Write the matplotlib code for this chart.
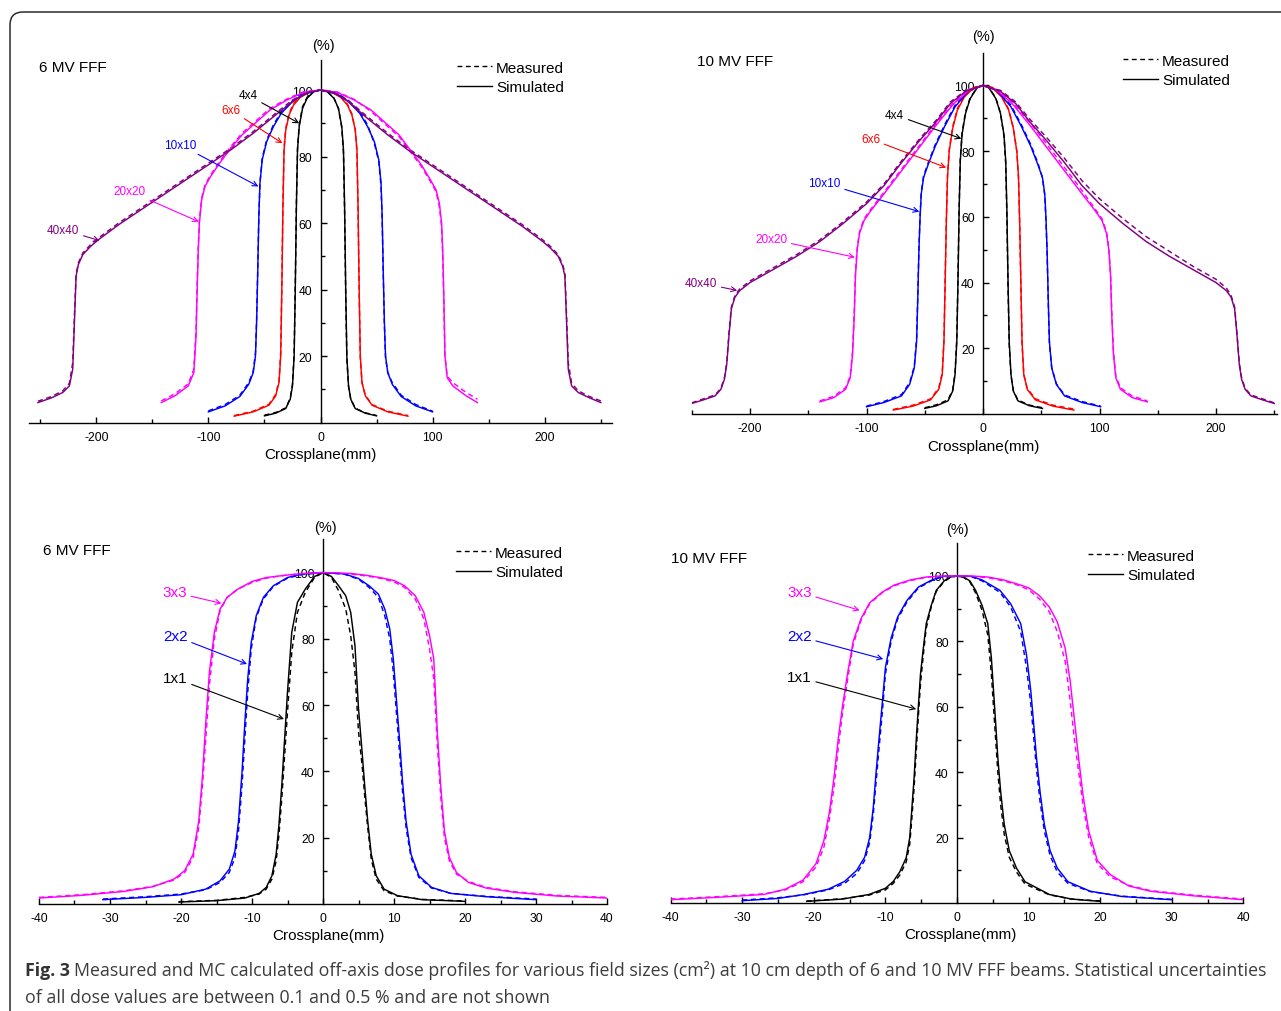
import matplotlib
matplotlib.use('Agg')
import matplotlib.pyplot as plt
from matplotlib.lines import Line2D
from matplotlib.patches import FancyBboxPatch
from matplotlib.ticker import MultipleLocator, FixedLocator

plt.rcParams['font.family'] = ['Liberation Sans', 'DejaVu Sans']
plt.rcParams['axes.unicode_minus'] = False

W, H = 1281, 1012

# ---------------- data: 6 MV FFF, large fields (crossplane mm, dose %) ----------------
a_x40 = [-252, -240, -230, -224, -221, -219.5, -218, -216, -212, -205, -198, -180, -160, -140, -120, -100, -80, -60, -40, -25,
         -12, 0, 12, 25, 40, 60, 80, 100, 120, 140, 160, 180, 198, 205, 212, 216, 218, 219.5, 221, 224, 230, 240, 250]
a_sim40 = [6.0, 7.4, 9.0, 11.0, 16, 30, 44, 47.5, 50.5, 53, 55, 59.5, 64, 68.5, 73, 77.5, 82, 87, 92.5, 96.5,
           99.2, 100, 99.2, 96.5, 92, 86.5, 81.5, 77, 72.5, 68, 63.5, 59, 54.5, 52.5, 50, 47, 44, 30, 16, 11, 9, 7.4, 6.0]
a_meas40 = [6.4, 7.8, 9.5, 11.8, 18, 32, 44.5, 48, 51, 53.5, 55.5, 60, 64.5, 69, 73.5, 78, 82.5, 87.5, 93, 97,
            99.4, 100, 99.4, 96.8, 92.5, 87, 82, 77.5, 73, 68.5, 64, 59.5, 55, 53, 50.5, 47.5, 45, 32, 18, 11.8, 9.5, 7.8, 6.5]

a_x20 = [-142, -130, -118, -113, -111, -110, -109, -108, -106, -103, -98, -90, -80, -70, -60, -45, -30, -15, 0, 15,
         30, 45, 60, 70, 80, 90, 98, 103, 106, 108, 109, 110, 111, 113, 118, 130, 140]
a_sim20 = [6.0, 8.0, 11.0, 15, 26, 40, 52, 60, 67, 71, 74, 78, 82.5, 86.5, 89.5, 94, 97, 99.3, 100, 99.3,
           97, 94, 89.5, 86.5, 82, 77.5, 73, 70, 66, 60, 52, 38, 20, 13.5, 11, 8, 6.0]
a_meas20 = [6.5, 8.6, 11.6, 16, 28, 42, 53, 61, 67.5, 71.5, 74.5, 78.5, 83, 87, 90, 94.5, 97.3, 99.5, 100, 99.4,
            97.2, 93.6, 89, 86, 81.5, 77, 72.5, 69.5, 65, 59, 50, 36, 20, 14, 12, 9, 7.0]

a_x10 = [-100, -85, -72, -64, -60, -58, -57, -56, -55, -54, -52, -48, -42, -35, -25, -15, 0, 15, 25, 35,
         42, 48, 52, 54, 55, 56, 57, 58, 60, 64, 72, 85, 100]
a_sim10 = [3.2, 5.0, 7.8, 11.5, 15, 20, 30, 45, 62, 72, 79, 84.5, 89, 93, 96.5, 98.8, 100, 98.8, 96.5, 93,
           89, 84.5, 79, 72, 62, 45, 30, 20, 15, 11.5, 7.8, 5.0, 3.2]
a_meas10 = [3.5, 5.4, 8.2, 12, 15.5, 21, 31, 46, 62, 72, 79.5, 85, 89.5, 93.5, 96.8, 99, 100, 99, 96.8, 93.5,
            89.5, 84, 78.5, 71, 61, 44, 29, 19.5, 15, 12, 8.2, 5.4, 3.4]

a_x6 = [-77, -60, -46, -40, -37, -35.5, -34.5, -33.5, -32.5, -31, -28, -24, -18, -10, 0, 10, 18, 24, 28, 31,
        32.5, 33.5, 34.5, 35.5, 37, 40, 46, 60, 78]
a_sim6 = [1.9, 3.2, 5.2, 8.0, 12, 20, 40, 65, 82, 88, 92.5, 95.5, 97.8, 99.3, 100, 99.3, 97.8, 95.5, 92.5, 88,
          82, 65, 40, 20, 12, 8.0, 5.2, 3.2, 1.9]
a_meas6 = [2.1, 3.4, 5.5, 8.4, 12.5, 21, 41, 66, 82.5, 88.5, 93, 96, 98, 99.5, 100, 99.5, 98, 95.8, 92.8, 88,
           81.5, 64, 39, 19.5, 12, 8.2, 5.4, 3.4, 2.1]

a_x4 = [-50, -40, -31, -27, -25, -23.5, -22.5, -21.5, -20.5, -19, -16, -12, -6, 0, 6, 12, 16, 19, 20.5, 21.5,
        22.5, 23.5, 25, 27, 31, 40, 50]
a_sim4 = [2.0, 2.8, 4.2, 7, 11, 20, 40, 65, 82, 89, 94.5, 97.5, 99.5, 100, 99.5, 97.5, 94.5, 89, 82, 65,
          40, 20, 11, 7, 4.2, 2.8, 2.0]
a_meas4 = [2.2, 3.0, 4.4, 7.3, 11.5, 21, 41, 66, 82.5, 89.5, 95, 97.8, 99.6, 100, 99.6, 97.6, 94.4, 88.6, 81, 63,
           38, 19, 10.8, 7, 4.3, 2.9, 2.1]

# ---------------- data: 10 MV FFF, large fields ----------------
b_x40 = [-250, -240, -230, -225, -222, -220, -218, -216, -213, -209, -200, -180, -160, -140, -120, -100, -85, -70, -55, -40,
         -28, -15, 0, 15, 28, 40, 55, 70, 85, 100, 120, 140, 160, 180, 200, 209, 213, 216, 218, 220,
         222, 225, 230, 240, 250]
b_sim40 = [3.2, 4.3, 5.5, 7.5, 10.5, 15, 24, 32, 35.5, 37.5, 40, 44, 48, 52.5, 58, 64, 69.5, 76.5, 83, 89,
           94.5, 98.2, 100, 98.2, 94.5, 89, 83, 76.5, 69.5, 64, 58, 52.5, 48, 44, 40, 37.5, 35.5, 32, 24, 15,
           10.5, 7.5, 5.5, 4.3, 3.2]
b_meas40 = [3.4, 4.6, 5.8, 7.8, 11, 15.5, 25, 32.5, 36, 38, 40.5, 44.5, 48.5, 53, 58.5, 64.5, 70, 77, 83.5, 89.5,
            95, 98.4, 100, 98.5, 95, 89.8, 84, 77.8, 71, 65.5, 59.5, 54, 49.5, 45, 41, 38.3, 36, 32.5, 24.5, 15.5,
            11, 7.8, 5.8, 4.6, 3.4]

b_x20 = [-140, -128, -118, -114, -112, -110.5, -109.5, -108, -106, -102, -96, -85, -70, -55, -40, -25, -12, 0, 12, 25,
         40, 55, 70, 85, 96, 102, 106, 108, 109.5, 110.5, 112, 114, 118, 128, 141]
b_sim20 = [3.7, 5.0, 7.5, 11, 18, 30, 42, 50, 55, 59, 62, 67, 74, 81, 88, 94.5, 98.5, 100, 98.5, 94.5,
           88, 81, 74, 67, 62, 59, 55, 50, 42, 30, 18, 11, 7.5, 5.0, 3.7]
b_meas20 = [4.0, 5.4, 8.0, 11.5, 19, 31, 43, 50.5, 55.5, 59.5, 62.5, 67.5, 74.5, 81.5, 88.5, 95, 98.7, 100, 98.6, 95,
            88.8, 82, 75, 68, 62.5, 59.5, 55.5, 50.5, 42.5, 31, 19, 11.5, 8, 5.5, 4.0]

b_x10 = [-100, -85, -70, -63, -59, -57, -56, -55, -54, -53, -51, -47, -41, -33, -24, -12, 0, 12, 24, 33,
         41, 47, 51, 53, 54, 55, 56, 57, 59, 63, 70, 85, 101]
b_sim10 = [2.2, 3.5, 5.5, 9, 14, 22, 35, 50, 60, 67, 72, 76, 81.5, 87.5, 93.5, 98.5, 100, 98.5, 93.5, 87.5,
           81.5, 76, 72, 67, 60, 50, 35, 22, 14, 9, 5.5, 3.5, 2.2]
b_meas10 = [2.4, 3.8, 5.9, 9.5, 14.5, 23, 36, 50.5, 60.5, 67.5, 72.5, 76.5, 82, 88, 94, 98.7, 100, 98.7, 94, 88,
            82, 76.5, 72, 66.5, 59, 49, 34, 21.5, 14, 9.2, 5.8, 3.8, 2.4]

b_x6 = [-77, -60, -45, -38, -35, -33.5, -32.5, -31.5, -30.5, -29, -26, -22, -16, -8, 0, 8, 16, 22, 26, 29,
        30.5, 31.5, 32.5, 33.5, 35, 38, 45, 60, 78]
b_sim6 = [1.2, 2.4, 4.3, 7.5, 12, 22, 40, 58, 72, 80, 87, 92.5, 96.5, 99.3, 100, 99.3, 96.5, 92.5, 87, 80,
          72, 58, 40, 22, 12, 7.5, 4.3, 2.4, 1.2]
b_meas6 = [1.4, 2.7, 4.6, 7.9, 12.5, 23, 41, 59, 72.5, 80.5, 87.5, 93, 96.8, 99.4, 100, 99.4, 96.8, 92.8, 87.2, 80,
           71.5, 57, 39, 21.5, 12, 7.8, 4.6, 2.7, 1.5]

b_x4 = [-50, -40, -30, -26, -24, -22.5, -21.5, -20.5, -19.5, -18, -15, -11, -5, 0, 5, 11, 15, 18, 19.5, 20.5,
        21.5, 22.5, 24, 26, 30, 40, 51]
b_sim4 = [1.7, 2.5, 4.0, 7, 12, 22, 40, 62, 77, 85, 91.5, 96, 99.3, 100, 99.3, 96, 91.5, 85, 77, 62,
          40, 22, 12, 7, 4.0, 2.5, 1.7]
b_meas4 = [1.9, 2.8, 4.3, 7.4, 12.5, 23, 41, 63, 77.5, 85.5, 92, 96.3, 99.4, 100, 99.4, 96.2, 91.5, 84.6, 76, 60,
           38, 21, 11.8, 7.2, 4.2, 2.7, 1.9]

# ---------------- data: 6 MV FFF, small fields ----------------
c_x3 = [-40, -34, -28, -24, -21, -19.5, -18.3, -17.5, -17, -16.5, -16, -15.3, -14.5, -13.5, -12, -10, -8, -6, -4, -2,
        0, 2, 4, 6, 8, 10, 11.5, 13, 14.2, 15, 15.6, 16.1, 16.6, 17.1, 17.8, 18.8, 20.5, 23, 27, 33, 40]
c_sim3 = [1.8, 2.6, 3.8, 5.2, 7.5, 10, 15, 25, 38, 55, 70, 82, 89, 92.5, 95, 97.3, 98.5, 99, 99.5, 99.8,
          100, 99.9, 99.7, 99.2, 98.5, 97.6, 96, 93, 88, 81, 74, 52, 35, 22, 14, 9.5, 6.5, 4.8, 3.5, 2.4, 1.8]
c_meas3 = [2.0, 2.8, 4.0, 5.3, 7.2, 9.5, 14, 23, 35, 50, 66, 80, 88.5, 92.5, 95, 97, 98.3, 99, 99.4, 99.8,
           100, 99.8, 99.5, 99, 98.3, 97.2, 95.5, 92, 86, 77, 68, 48, 32, 20, 13, 9, 6.8, 5.0, 3.7, 2.6, 2.0]

c_x2 = [-31, -25, -20, -16.5, -14.5, -13.2, -12.4, -11.9, -11.4, -11, -10.6, -10.1, -9.4, -8.4, -7, -5, -3, 0, 3, 5,
        6.5, 7.8, 8.7, 9.4, 9.9, 10.4, 10.8, 11.2, 11.7, 12.4, 13.5, 15.3, 18, 23, 30]
c_sim2 = [1.3, 2.0, 2.8, 4.5, 7, 10.5, 16, 25, 40, 55, 68, 79, 87, 92.5, 96, 98.5, 99.5, 100, 99.6, 98.2,
          96, 93.5, 89, 83, 74, 60, 49, 37, 25, 15, 8.5, 5, 3.2, 2.2, 1.3]
c_meas2 = [1.5, 2.2, 3.0, 4.3, 6.5, 9.5, 14, 22, 36, 50, 64, 77, 86.5, 92, 95.8, 98.3, 99.4, 100, 99.5, 98,
           95.5, 92.5, 87, 80, 70, 56, 45, 34, 23, 14, 8, 4.8, 3.2, 2.3, 1.5]

c_x1 = [-20.3, -15, -11, -9, -8, -7.2, -6.6, -6.2, -5.8, -5.4, -5, -4.4, -3.6, -2.5, -1.2, 0, 1.2, 2.2, 3.2, 3.9,
        4.5, 5, 5.5, 5.9, 6.3, 6.8, 7.5, 8.6, 10.5, 14, 20]
c_sim1 = [0.6, 1.0, 1.8, 3.2, 5, 8.5, 15, 24, 36, 50, 64, 82, 91, 95, 98.8, 100, 98.8, 96, 93, 88,
          78, 59, 46, 35, 25, 15, 8.5, 4.5, 2.5, 1.3, 0.8]
c_meas1 = [0.7, 1.1, 2.0, 3.0, 4.5, 7.5, 13, 21, 32, 45, 58, 76, 88, 94, 98.5, 100, 98.5, 94.5, 89, 81,
           70, 52, 42, 32, 23, 13.5, 7.5, 4, 2.4, 1.4, 0.9]

# ---------------- data: 10 MV FFF, small fields ----------------
d_x3 = [-40, -33, -27, -24, -21.5, -19.7, -18.6, -17.8, -17.2, -16.6, -16, -15.3, -14.5, -13.4, -12.2, -10.5, -8.8, -6.5, -4.3, -2,
        0, 2, 4.3, 6.5, 8.5, 10, 11.5, 12.9, 14, 15.1, 15.8, 16.4, 17, 17.6, 18.4, 19.6, 21.4, 24, 27, 33, 40]
d_sim3 = [1.0, 1.8, 2.6, 4.2, 7.0, 12, 19, 28, 38, 50, 60, 70, 80, 87, 91.8, 95, 97.2, 98.8, 99.7, 100,
          100, 100, 99.7, 98.8, 97.5, 96.4, 94, 90.5, 86, 78, 68, 56, 44, 33, 22, 13, 8.7, 5.2, 3.6, 2.2, 1.0]
d_meas3 = [1.2, 2.0, 2.8, 4.0, 6.5, 11, 17, 26, 35, 47, 58, 68, 79, 86.5, 91.5, 94.8, 97, 98.6, 99.6, 100,
           100, 99.9, 99.5, 98.5, 97.2, 95.8, 93, 89, 83, 74, 62, 50, 40, 30, 20, 12, 8, 5.4, 3.8, 2.4, 1.2]

d_x2 = [-30, -25, -21.4, -18, -15.7, -14, -12.9, -12.2, -11.7, -11.3, -10.9, -10.4, -10, -9.2, -8.3, -7, -5.4, -3.5, -2, 0,
        2, 3.5, 6, 7.5, 8.9, 9.7, 10.3, 10.7, 11.1, 11.6, 12.2, 13, 14, 15.5, 18.6, 23, 30]
d_sim2 = [0.7, 1.4, 2.6, 4.2, 6.6, 10, 14, 20, 29, 40, 50, 62, 72, 81, 87.4, 92.5, 96.6, 98.8, 99.9, 100,
          99.9, 98.8, 95.6, 91.5, 85.4, 76, 65, 55, 44.5, 34, 24, 16, 10.7, 6.5, 3.6, 2.0, 1.0]
d_meas2 = [0.9, 1.6, 2.5, 4.0, 6.0, 9, 13, 18.5, 27, 37, 47, 59, 70, 80, 86.8, 92, 96.3, 98.6, 99.8, 100,
           99.8, 98.5, 95, 90.5, 83, 72, 61, 51, 41, 31, 22, 14.5, 9.5, 6, 3.5, 2.1, 1.1]

d_x1 = [-21, -16, -12.3, -10, -8.9, -8, -7.1, -6.6, -6.3, -6, -5.7, -5.4, -5.1, -4.7, -4.3, -3.6, -2.9, -1.8, -0.9, 0,
        0.9, 1.8, 2.6, 3.5, 4.3, 4.8, 5.1, 5.4, 5.7, 6.1, 6.6, 7.3, 8.3, 9.5, 12.9, 16, 20]
d_sim1 = [0.5, 1.2, 2.6, 4.5, 6.6, 9.5, 13.8, 20, 29, 38, 49.6, 60, 70, 78, 85.4, 91, 95.6, 98.5, 99.7, 100,
          99.7, 98.5, 95.6, 91, 85.4, 75, 65, 55, 44.5, 34, 24, 16, 10.7, 6.5, 2.6, 1.2, 0.5]
d_meas1 = [0.6, 1.3, 2.4, 4.0, 6.0, 8.5, 12.5, 18, 26, 35, 46, 57, 67, 76, 84, 90.5, 95.3, 98.3, 99.6, 100,
           99.6, 98.2, 94.8, 89.5, 82, 70, 60, 50, 40, 30, 21, 14, 9.5, 5.8, 2.5, 1.2, 0.6]

large_labels = ['4x4', '6x6', '10x10', '20x20', '40x40']
small_labels = ['1x1', '2x2', '3x3']
panel_titles = ['6 MV FFF', '10 MV FFF', '6 MV FFF', '10 MV FFF']
caption_bold = 'Fig. 3'
caption_line1 = ('Measured and MC calculated off-axis dose profiles for various field sizes (cm\u00b2) '
                 'at 10 cm depth of 6 and 10 MV FFF beams. Statistical uncertainties')
caption_line2 = 'of all dose values are between 0.1 and 0.5 % and are not shown'

# ---------------- styling ----------------
C_BLACK, C_RED, C_BLUE, C_MAG, C_PURP = '#000000', '#ff0000', '#0000ff', '#ff00ff', '#800080'
large_colors = [C_BLACK, C_RED, C_BLUE, C_MAG, C_PURP]
small_colors = [C_BLACK, C_BLUE, C_MAG]

panels = [
    dict(rect=(29, 612, 423.5, 61.1), xlim=(-260, 260), ylim=(0, 109), xmaj=100, xmin=50,
         curves=[(a_x4, a_sim4, a_meas4), (a_x6, a_sim6, a_meas6), (a_x10, a_sim10, a_meas10),
                 (a_x20, a_sim20, a_meas20), (a_x40, a_sim40, a_meas40)],
         labels=large_labels, colors=large_colors, afs=8.5,
         ann=[((-64.5, 98.4), (-19, 90)), ((-80, 94), (-34, 84)), ((-125, 83.5), (-55.4, 71)),
              ((-170, 69.5), (-108.6, 60.4)), ((-229.5, 58), (-197, 54.7))],
         title=(39, 68), pct=(323, 46), xlab=(320, 455), leg=(457, 78.5)),
    dict(rect=(691.75, 1276.6, 415, 53.6), xlim=(-250, 252), ylim=(0, 110), xmaj=100, xmin=50,
         curves=[(b_x4, b_sim4, b_meas4), (b_x6, b_sim6, b_meas6), (b_x10, b_sim10, b_meas10),
                 (b_x20, b_sim20, b_meas20), (b_x40, b_sim40, b_meas40)],
         labels=large_labels, colors=large_colors, afs=8.5,
         ann=[((-75.8, 91.1), (-18.6, 83.8)), ((-96.5, 83.7), (-31.6, 75)), ((-136, 70.2), (-54.7, 61.6)),
              ((-181.8, 53.2), (-110, 47.7)), ((-242, 39.9), (-211, 37.6))],
         title=(697, 62), pct=(983, 37), xlab=(983, 447), leg=(1123, 71.5)),
    dict(rect=(39, 607, 905, 540.4), xlim=(-40, 40), ylim=(0, 110), xmaj=10, xmin=5,
         curves=[(c_x1, c_sim1, c_meas1), (c_x2, c_sim2, c_meas2), (c_x3, c_sim3, c_meas3)],
         labels=small_labels, colors=small_colors, afs=11,
         ann=[((-20.8, 68.1), (-5.5, 55.8)), ((-20.8, 80.8), (-10.7, 72.4)), ((-20.9, 94), (-14.3, 90.7))],
         title=(43, 551), pct=(325, 528), xlab=(328, 936), leg=(456, 563.5)),
    dict(rect=(670.6, 1243.4, 904, 544.3), xlim=(-40, 40), ylim=(0, 110), xmaj=10, xmin=5,
         curves=[(d_x1, d_sim1, d_meas1), (d_x2, d_sim2, d_meas2), (d_x3, d_sim3, d_meas3)],
         labels=small_labels, colors=small_colors, afs=11,
         ann=[((-22, 69), (-5.7, 59.3)), ((-22, 81.5), (-10.3, 74.6)), ((-22, 95.1), (-13.6, 89.5))],
         title=(671, 559), pct=(957, 530), xlab=(960, 935), leg=(1088, 566.5)),
]

fig = plt.figure(figsize=(W / 100, H / 100), dpi=100)

# background axes in pixel coordinates for the frame and free texts
bg = fig.add_axes([0, 0, 1, 1])
bg.set_xlim(0, W)
bg.set_ylim(H, 0)
bg.axis('off')
bg.add_patch(FancyBboxPatch((10, 13), 1300, 1020, boxstyle='round,pad=0,rounding_size=13',
                            fill=False, ec='#2b2b2b', lw=1.1, clip_on=False))

leg_handles = [Line2D([], [], color='black', lw=1.0, ls=(0, (3.5, 2.5))),
               Line2D([], [], color='black', lw=1.0)]

for p, title in zip(panels, panel_titles):
    l, r, b, t = p['rect']
    ax = fig.add_axes([l / W, 1 - b / H, (r - l) / W, (b - t) / H])
    ax.patch.set_alpha(0)
    ax.set_xlim(*p['xlim'])
    ax.set_ylim(*p['ylim'])

    for (x, sim, meas), c in zip(p['curves'], p['colors']):
        ax.plot(x, meas, color=c, lw=1.05, ls=(0, (3.5, 2.5)), zorder=3)
        ax.plot(x, sim, color=c, lw=1.05, zorder=4)

    for lab, c, (txy, tip) in zip(p['labels'], p['colors'], p['ann']):
        ax.annotate(lab, xy=tip, xytext=txy, color=c, fontsize=p['afs'], ha='center', va='center',
                    arrowprops=dict(arrowstyle='->', color=c, lw=0.8, shrinkA=1, shrinkB=0,
                                    mutation_scale=9), zorder=5)

    ax.spines['top'].set_visible(False)
    ax.spines['right'].set_visible(False)
    ax.spines['left'].set_position(('data', 0))
    for s in ('left', 'bottom'):
        ax.spines[s].set_linewidth(1.0)
    ax.xaxis.set_major_locator(MultipleLocator(p['xmaj']))
    ax.xaxis.set_minor_locator(MultipleLocator(p['xmin']))
    ax.yaxis.set_major_locator(FixedLocator([20, 40, 60, 80, 100]))
    ax.yaxis.set_minor_locator(FixedLocator([10, 30, 50, 70, 90]))
    ax.tick_params(which='both', direction='in', width=1.0, labelsize=8.7, pad=6)
    ax.tick_params(which='major', length=4.5)
    ax.tick_params(which='minor', length=2.6)

    ax.legend(leg_handles, ['Measured', 'Simulated'], loc='center left', bbox_to_anchor=p['leg'],
              bbox_transform=bg.transData, frameon=False, fontsize=11, handlelength=2.3,
              handletextpad=0.25, labelspacing=0.35, borderpad=0, borderaxespad=0)

    bg.text(p['title'][0], p['title'][1], title, fontsize=11, ha='left', va='center')
    bg.text(p['pct'][0], p['pct'][1], '(%)', fontsize=10.5, ha='center', va='center')
    bg.text(p['xlab'][0], p['xlab'][1], 'Crossplane(mm)', fontsize=11, ha='center', va='center')

# caption
cap_font = ['Open Sans', 'DejaVu Sans']
fb = bg.text(25, 976, caption_bold, fontsize=12.75, fontweight='bold', family=cap_font,
             color='#333333', ha='left', va='baseline')
bg.annotate(caption_line1, xy=(1, 0), xycoords=fb, xytext=(3, 0), textcoords='offset points',
            fontsize=12.75, family=cap_font, color='#3c3c3c', ha='left', va='bottom')
bg.text(25, 1003, caption_line2, fontsize=12.75, family=cap_font, color='#3c3c3c', ha='left', va='baseline')

fig.savefig('out.png', dpi=100)
